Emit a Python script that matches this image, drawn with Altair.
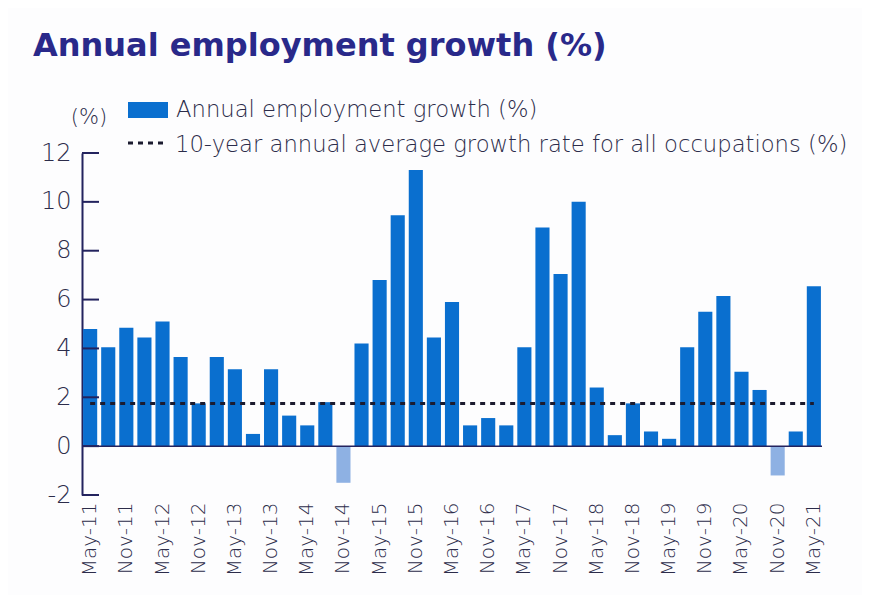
import altair as alt
import pandas as pd

# ---- data ----
months = ["May", "Aug", "Nov", "Feb"]
periods = [f"{months[i % 4]}-{11 + (i + 1) // 4}" for i in range(41)]
growth = [4.8, 4.05, 4.85, 4.45, 5.1, 3.65, 1.75, 3.65, 3.15, 0.5,
          3.15, 1.25, 0.85, 1.8, -1.5, 4.2, 6.8, 9.45, 11.3, 4.45,
          5.9, 0.85, 1.15, 0.85, 4.05, 8.95, 7.05, 10.0, 2.4, 0.45,
          1.75, 0.6, 0.3, 4.05, 5.5, 6.15, 3.05, 2.3, -1.2, 0.6, 6.55]
avg_rate = 1.75
y_ticks = [-2, 0, 2, 4, 6, 8, 10, 12]
x_labels = [p for p in periods if p.startswith(("May", "Nov"))]

title_text = "Annual employment growth (%)"
legend_bar_text = "Annual employment growth (%)"
legend_line_text = "10-year annual average growth rate for all occupations (%)"
unit_text = "(%)"

# ---- style ----
NAVY = "#23235e"
POS = "#0a6fcf"
NEG = "#8eb1e3"
TXT = "#2c2c4a"
TITLE_C = "#29298a"
FONT = "DejaVu Sans"
W, H = 740, 342

df = pd.DataFrame({"period": periods, "growth": growth})
df["avg"] = avg_rate

xscale = alt.Scale(domain=periods, paddingInner=0.22, paddingOuter=0.06)
yscale = alt.Scale(domain=[-2, 12], nice=False, zero=False)

bars = alt.Chart(df).mark_bar().encode(
    x=alt.X("period:N", scale=xscale, sort=periods, title=None,
            axis=alt.Axis(values=x_labels, labelAngle=-90, domain=False, ticks=False,
                          labelPadding=7, labelFont=FONT, labelFontSize=20,
                          labelFontWeight=200, labelColor=TXT, labelOverlap=False)),
    y=alt.Y("growth:Q", scale=yscale, title=None,
            axis=alt.Axis(values=y_ticks, ticks=False, grid=False, domainColor=NAVY,
                          domainWidth=2, labelPadding=11, labelFont=FONT,
                          labelFontSize=24, labelFontWeight=200, labelColor=TXT,
                          labelExpr="toString(datum.value)")),
    color=alt.condition("datum.growth < 0", alt.value(NEG), alt.value(POS)),
)

avg_line = alt.Chart(df).mark_line(strokeDash=[5, 5], strokeWidth=3, color="#1b1b2f").encode(
    x=alt.X("period:N", scale=xscale, sort=periods),
    y=alt.Y("avg:Q", scale=yscale),
)

zero_line = alt.Chart(pd.DataFrame({"z": [0]})).mark_rule(color=NAVY, strokeWidth=1.5).encode(
    y=alt.Y("z:Q", scale=yscale), x=alt.value(0), x2=alt.value(W)
)

tick_marks = alt.Chart(pd.DataFrame({"t": y_ticks})).mark_rule(color=NAVY, strokeWidth=2).encode(
    y=alt.Y("t:Q", scale=yscale), x=alt.value(0), x2=alt.value(17)
)

title = alt.Chart(pd.DataFrame({"t": [title_text]})).mark_text(
    align="left", baseline="alphabetic", font="DejaVu Sans", fontSize=32,
    fontWeight="bold", color=TITLE_C
).encode(text="t:N", x=alt.value(-49), y=alt.value(-97))

unit = alt.Chart(pd.DataFrame({"t": [unit_text]})).mark_text(
    align="center", baseline="alphabetic", font=FONT, fontSize=21,
    fontWeight=200, color=TXT
).encode(text="t:N", x=alt.value(7), y=alt.value(-29))

leg_rect = alt.Chart(pd.DataFrame({"t": [1]})).mark_rect(color=POS).encode(
    x=alt.value(46), x2=alt.value(86), y=alt.value(-51), y2=alt.value(-35)
)

leg_text1 = alt.Chart(pd.DataFrame({"t": [legend_bar_text]})).mark_text(
    align="left", baseline="alphabetic", font=FONT, fontSize=22.7,
    fontWeight=200, color=TXT
).encode(text="t:N", x=alt.value(94), y=alt.value(-36))

leg_dash = alt.Chart(pd.DataFrame({"t": [1]})).mark_rule(
    strokeDash=[5, 5], strokeWidth=3, color="#1b1b2f"
).encode(x=alt.value(46), x2=alt.value(82), y=alt.value(-10))

leg_text2 = alt.Chart(pd.DataFrame({"t": [legend_line_text]})).mark_text(
    align="left", baseline="alphabetic", font=FONT, fontSize=22.7,
    fontWeight=200, color=TXT
).encode(text="t:N", x=alt.value(93), y=alt.value(-1))

chart = alt.layer(
    bars, avg_line, zero_line, tick_marks, title, unit, leg_rect, leg_text1, leg_dash, leg_text2
).properties(
    width=W, height=H, autosize="none",
    padding={"left": 74, "top": 145, "right": 40, "bottom": 100},
    background="#fdfdfe",
).configure_view(stroke=None)

chart.save("out.html", embed_options={"renderer": "svg", "actions": False})
